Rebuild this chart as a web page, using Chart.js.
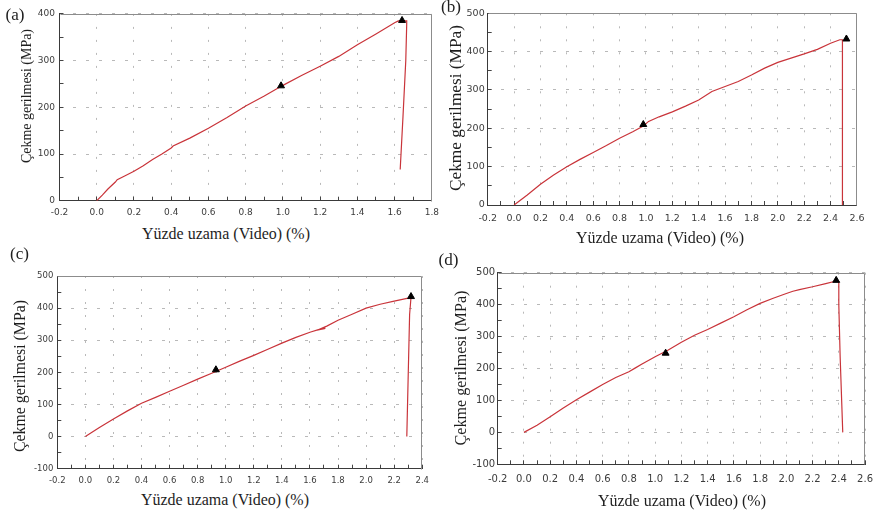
<!DOCTYPE html>
<html><head><meta charset="utf-8">
<script src="https://cdn.jsdelivr.net/npm/chart.js@4"></script>
<style>
html,body{margin:0;padding:0;background:#fff;width:876px;height:513px;overflow:hidden;position:relative}
canvas{position:absolute}
.t{position:absolute;color:#1e1e1e;white-space:nowrap;line-height:1}
.c{transform:translate(-50%,-50%)}
.r{transform:translate(-50%,-50%) rotate(-90deg)}
</style></head><body>
<script>
// ---- data ----
const xTitle = 'Yüzde uzama (Video) (%)';
const yTitle = 'Çekme gerilmesi (MPa)';
const panelLabels = ['(a)', '(b)', '(c)', '(d)'];

// (a)
const aX = [0, 0.03, 0.06, 0.1, 0.11, 0.15, 0.2, 0.25, 0.3, 0.35, 0.4, 0.41, 0.5, 0.6, 0.7, 0.8, 0.9, 1.0, 1.1, 1.2, 1.3, 1.4, 1.5, 1.6, 1.62, 1.665, 1.665, 1.66, 1.645, 1.63];
const aY = [0, 12, 25, 40, 45, 53, 63, 75, 88, 100, 113, 117, 134, 155, 178, 203, 224, 247, 268, 288, 309, 334, 357, 381, 385, 385, 378, 300, 180, 67];
const aMarkX = [0.99, 1.64];
const aMarkY = [246, 386];
const aXRange = [-0.2, 1.8];
const aYRange = [0, 400];

// (b)
const bX = [0, 0.1, 0.2, 0.3, 0.4, 0.5, 0.6, 0.7, 0.8, 0.9, 0.98, 1.02, 1.1, 1.2, 1.3, 1.4, 1.5, 1.6, 1.7, 1.8, 1.9, 2.0, 2.1, 2.2, 2.3, 2.4, 2.47, 2.49, 2.49];
const bY = [0, 26, 54, 78, 100, 119, 137, 155, 174, 191, 206, 218, 230, 243, 258, 274, 296, 309, 322, 339, 357, 372, 383, 394, 406, 422, 431, 431, 0];
const bMarkX = [0.98, 2.52];
const bMarkY = [210, 433];
const bXRange = [-0.2, 2.6];
const bYRange = [0, 500];

// (c)
const cX = [0, 0.1, 0.2, 0.3, 0.4, 0.5, 0.6, 0.7, 0.8, 0.9, 1.0, 1.1, 1.2, 1.3, 1.4, 1.5, 1.6, 1.66, 1.71, 1.65, 1.72, 1.8, 1.9, 2.0, 2.1, 2.2, 2.3, 2.32, 2.31, 2.29];
const cY = [0, 28, 55, 80, 104, 122, 141, 160, 179, 197, 216, 235, 253, 272, 291, 309, 325, 333, 337, 331, 344, 362, 381, 400, 412, 422, 431, 434, 380, 0];
const cMarkX = [0.93, 2.32];
const cMarkY = [208, 436];
const cXRange = [-0.2, 2.4];
const cYRange = [-100, 500];

// (d)
const dX = [0, 0.1, 0.2, 0.3, 0.4, 0.5, 0.6, 0.7, 0.8, 0.85, 0.9, 1.0, 1.1, 1.2, 1.3, 1.4, 1.5, 1.6, 1.7, 1.8, 1.9, 2.0, 2.05, 2.1, 2.2, 2.3, 2.38, 2.40, 2.40, 2.41, 2.43];
const dY = [0, 22, 49, 76, 102, 126, 150, 172, 190, 202, 214, 237, 258, 282, 304, 322, 342, 362, 384, 404, 420, 435, 442, 447, 456, 466, 474, 472, 400, 240, 0];
const dMarkX = [1.08, 2.38];
const dMarkY = [248, 476];
const dXRange = [-0.2, 2.6];
const dYRange = [-100, 500];

// ---- helpers ----
const SERIF = '"Liberation Serif", "Tinos", "Times New Roman", "Noto Serif", "DejaVu Serif", serif';
const mctx = document.createElement('canvas').getContext('2d');
function sizeFor(str, targetW) {
  mctx.font = '100px ' + SERIF;
  return 100 * targetW / mctx.measureText(str).width;
}

function pts(xs, ys) { return xs.map((x, i) => ({ x: x, y: ys[i] })); }

const frame = {
  id: 'frame',
  beforeDatasetsDraw(ch) {
    const a = ch.chartArea, c = ch.ctx;
    const l = Math.round(a.left) + 0.5, t = Math.round(a.top) + 0.5, r = Math.round(a.right) - 0.5, b = Math.round(a.bottom) + 0.5;
    c.save(); c.strokeStyle = '#8c8c8c'; c.lineWidth = 1;
    c.beginPath(); c.moveTo(l, t); c.lineTo(r, t); c.lineTo(r, b); c.stroke(); c.restore();
  }
};

function text(str, cls, x, y, size) {
  const d = document.createElement('div');
  d.className = 't ' + cls; d.textContent = str;
  d.style.fontFamily = SERIF;
  d.style.left = x + 'px'; d.style.top = y + 'px'; d.style.fontSize = size.toFixed(2) + 'px';
  document.body.appendChild(d);
}

function make(p) {
  const cv = document.createElement('canvas');
  cv.width = p.w; cv.height = p.h;
  cv.style.left = p.left + 'px'; cv.style.top = p.top + 'px';
  cv.style.width = p.w + 'px'; cv.style.height = p.h + 'px';
  document.body.appendChild(cv);
  const majX = v => Math.round(v * 10) % 2 === 0;
  const majY = v => Math.round(v) % 100 === 0;
  const font = { family: 'DejaVu Sans', size: p.fs };
  new Chart(cv, {
    type: 'scatter',
    data: { datasets: [
      { data: pts(p.xs, p.ys), showLine: true, borderColor: '#c9343a', borderWidth: 1.2, pointRadius: 0, tension: 0, order: 2 },
      { data: pts(p.mx, p.my), showLine: false, pointStyle: 'triangle', pointRadius: 4, backgroundColor: '#000', borderColor: '#000', borderWidth: 1, order: 1 }
    ]},
    options: {
      responsive: false, animation: false, devicePixelRatio: 1,
      layout: { padding: { left: 0, bottom: 0, top: p.area.t - p.top, right: p.left + p.w - p.area.r } },
      plugins: { legend: { display: false }, tooltip: { enabled: false } },
      scales: {
        x: {
          type: 'linear', min: p.xr[0], max: p.xr[1],
          afterFit: s => { s.height = p.top + p.h - p.area.b; },
          ticks: { stepSize: 0.1, autoSkip: false, maxRotation: 0, minRotation: 0, padding: p.xpad, color: '#3c3c3c', font: font,
                   callback: v => majX(v) ? v.toFixed(1) : '' },
          grid: { color: c => majX(c.tick.value) ? '#b9b9b9' : 'rgba(0,0,0,0)', lineWidth: 1, tickColor: '#444', tickLength: -4, tickWidth: 1, tickBorderDash: [] },
          border: { color: '#3a3a3a', width: 1, dash: [2, 11] }
        },
        y: {
          type: 'linear', min: p.yr[0], max: p.yr[1],
          afterFit: s => { s.width = p.area.l - p.left; },
          ticks: { stepSize: 50, autoSkip: false, padding: p.ypad, color: '#3c3c3c', font: font,
                   callback: v => majY(v) ? String(Math.round(v)) : '' },
          grid: { color: c => majY(c.tick.value) ? '#b9b9b9' : 'rgba(0,0,0,0)', lineWidth: 1, tickColor: '#444', tickLength: -4, tickWidth: 1, tickBorderDash: [] },
          border: { color: '#3a3a3a', width: 1, dash: [3, 10] }
        }
      }
    },
    plugins: [frame]
  });
}

make({ left: 0, top: 0, w: 450, h: 225, area: { l: 59.5, t: 7.3, r: 435.5, b: 200.7 },
       xs: aX, ys: aY, mx: aMarkX, my: aMarkY, xr: aXRange, yr: aYRange, fs: 9, xpad: 11, ypad: 8.5 });
make({ left: 436, top: 0, w: 440, h: 230, area: { l: 487.7, t: 13.3, r: 862.7, b: 205 },
       xs: bX, ys: bY, mx: bMarkX, my: bMarkY, xr: bXRange, yr: bYRange, fs: 9.5, xpad: 11.5, ypad: 7 });
make({ left: 0, top: 250, w: 440, h: 240, area: { l: 57.3, t: 276, r: 428, b: 468.7 },
       xs: cX, ys: cY, mx: cMarkX, my: cMarkY, xr: cXRange, yr: cYRange, fs: 8.5, xpad: 11, ypad: 8 });
make({ left: 436, top: 250, w: 450, h: 240, area: { l: 497.7, t: 272.7, r: 869, b: 464.3 },
       xs: dX, ys: dY, mx: dMarkX, my: dMarkY, xr: dXRange, yr: dYRange, fs: 10, xpad: 13, ypad: 6.5 });

// panel letters
const pl = sizeFor('(a)', 19);
text(panelLabels[0], 'c', 15, 15, pl);
text(panelLabels[1], 'c', 451, 6.5, pl);
text(panelLabels[2], 'c', 19.5, 253.5, pl);
text(panelLabels[3], 'c', 448.5, 260, pl);
// axis titles (sized to the reference's text lengths)
const xs = sizeFor(xTitle, 168);
text(xTitle, 'c', 226, 233.5, xs);
text(yTitle, 'r', 27, 95.5, sizeFor(yTitle, 134));
text(xTitle, 'c', 660, 237.5, xs);
text(yTitle, 'r', 455.5, 107.5, sizeFor(yTitle, 166));
text(xTitle, 'c', 225, 500, xs);
text(yTitle, 'r', 20, 376, sizeFor(yTitle, 152));
text(xTitle, 'c', 682, 500.5, xs);
text(yTitle, 'r', 461, 367.5, sizeFor(yTitle, 155));
</script>
</body></html>
